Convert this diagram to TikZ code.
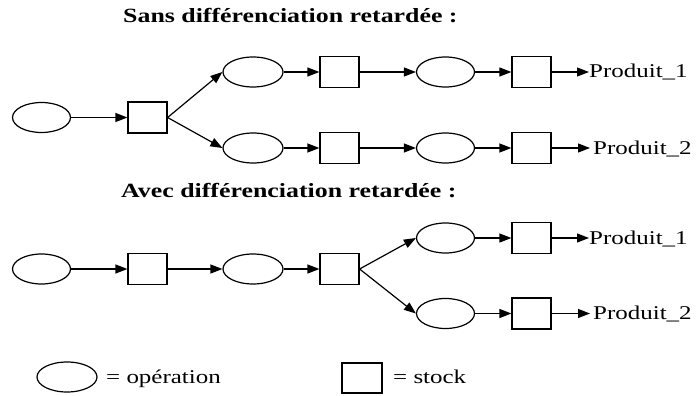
\documentclass[tikz,border=0pt]{standalone}
\usepackage{fontspec}
\setmainfont{Liberation Serif}[FakeStretch=1.28]
\usetikzlibrary{shapes.geometric,arrows.meta}
\begin{document}
\begin{tikzpicture}[x=1pt,y=-1pt,
  every node/.style={font=\fontsize{19.5}{22}\selectfont},
  op/.style={draw,line width=1.2pt,ellipse,minimum width=58pt,minimum height=30pt,inner sep=0pt},
  stk/.style={draw,line width=1.2pt,rectangle,minimum width=39pt,minimum height=31pt,inner sep=0pt},
  arr/.style={line width=1.2pt,-{Triangle[length=12pt,width=9pt]}},
  lbl/.style={anchor=base west,inner sep=0pt},
  ttl/.style={anchor=base west,inner sep=0pt,font=\fontsize{20.2}{23}\selectfont\bfseries}]
\useasboundingbox (0,0) rectangle (697,396);
% titles
\node[ttl] (t1) at (123,23) {Sans différenciation retardée :};
\node[ttl] (t2) at (121,197) {Avec différenciation retardée :};
% top diagram
\node[op] (a) at (41.5,117.5) {};
\node[stk] (b) at (147.5,117.5) {};
\node[op,minimum width=60pt] (c1) at (253,72) {};
\node[op,minimum width=60pt] (c2) at (253,148) {};
\node[stk] (d1) at (339.5,72) {};
\node[stk] (d2) at (339.5,148) {};
\node[op] (e1) at (445.5,72) {};
\node[op] (e2) at (445.5,148) {};
\node[stk] (f1) at (531.5,72) {};
\node[stk] (f2) at (531.5,148) {};
\coordinate (p1) at (589,72);
\coordinate (p2) at (590,148);
\node[lbl] (l1) at (589,78) {Produit\_1};
\node[lbl] (l2) at (593,154) {Produit\_2};
\draw[arr] (a) -- (b);
\draw[arr] (b.east) -- (c1.west);
\draw[arr] (b.east) -- (c2.west);
\draw[arr] (c1) -- (d1);
\draw[arr] (c2) -- (d2);
\draw[arr] (d1) -- (e1);
\draw[arr] (d2) -- (e2);
\draw[arr] (e1) -- (f1);
\draw[arr] (e2) -- (f2);
\draw[arr] (f1.east) -- (p1);
\draw[arr] (f2.east) -- (p2);
% bottom diagram
\node[op] (ba) at (41.5,269) {};
\node[stk] (bb) at (147.5,269) {};
\node[op,minimum width=60pt] (bc) at (253,269) {};
\node[stk] (bd) at (339.5,269) {};
\node[op] (be1) at (445.5,238) {};
\node[op] (be2) at (445.5,313.5) {};
\node[stk] (bf1) at (531.5,238) {};
\node[stk] (bf2) at (531.5,313.5) {};
\coordinate (bp1) at (589,238);
\coordinate (bp2) at (590,313.5);
\node[lbl] (bl1) at (589,244) {Produit\_1};
\node[lbl] (bl2) at (593,319.5) {Produit\_2};
\draw[arr] (ba) -- (bb);
\draw[arr] (bb) -- (bc);
\draw[arr] (bc) -- (bd);
\draw[arr] (bd.east) -- (be1.west);
\draw[arr] (bd.east) -- (be2.west);
\draw[arr] (be1) -- (bf1);
\draw[arr] (be2) -- (bf2);
\draw[arr] (bf1.east) -- (bp1);
\draw[arr] (bf2.east) -- (bp2);
% legend
\node[op,minimum width=60pt] (lo) at (67,377) {};
\node[lbl] (lot) at (106,383) {= opération};
\node[stk,minimum width=40pt,minimum height=30pt] (ls) at (362,378) {};
\node[lbl] (lst) at (393,383) {= stock};
\end{tikzpicture}
\end{document}
